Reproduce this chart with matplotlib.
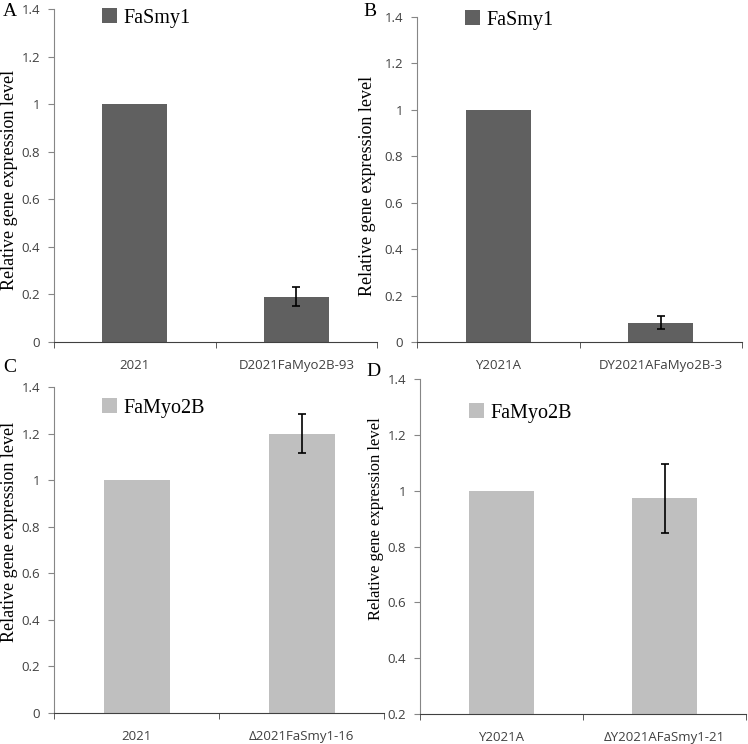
import matplotlib
matplotlib.use("Agg")
import matplotlib.pyplot as plt
from matplotlib.patches import Patch

W, H = 748, 744

# panel A
a_labels = ["2021", "D2021FaMyo2B-93"]
a_values = [1.0, 0.19]
a_errors = [0.0, 0.04]
# panel B
b_labels = ["Y2021A", "DY2021AFaMyo2B-3"]
b_values = [1.0, 0.084]
b_errors = [0.0, 0.027]
# panel C
c_labels = ["2021", "\u03942021FaSmy1-16"]
c_values = [1.0, 1.20]
c_errors = [0.0, 0.082]
# panel D
d_labels = ["Y2021A", "\u0394Y2021AFaSmy1-21"]
d_values = [1.0, 0.972]
d_errors = [0.0, 0.124]

DARK = "#606060"
LIGHT = "#bfbfbf"
TICK_FONT = "Open Sans"
SERIF = "Liberation Serif"


def px_axes(fig, x0, x1, ytop, ybot):
    return fig.add_axes([x0 / W, 1 - ybot / H, (x1 - x0) / W, (ybot - ytop) / H])


def panel(fig, box, labels, values, errors, color, gene, ymin, leg_xy, letter_xy, letter,
          ylab_xy, ylab_size=13):
    ax = px_axes(fig, *box)
    x = range(len(labels))
    ax.bar(x, [v - ymin for v in values], bottom=ymin, width=0.4, color=color, zorder=2)
    for i, (v, e) in enumerate(zip(values, errors)):
        if e > 0:
            ax.errorbar(i, v, yerr=e, fmt="none", ecolor="black", elinewidth=1.2,
                        capsize=2.6, capthick=1.2, zorder=3)
    ax.set_xlim(-0.5, 1.5)
    ax.set_ylim(ymin, 1.4)
    yt = [round(ymin + 0.2 * k, 1) for k in range(int(round((1.4 - ymin) / 0.2)) + 1)]
    ax.set_yticks(yt)
    ax.set_yticklabels(["1" if t == 1 else ("0" if t == 0 else f"{t:g}") for t in yt],
                       fontfamily=TICK_FONT, fontsize=9.5, color="#404040")
    ax.set_xticks(list(x))
    ax.set_xticklabels(labels, fontfamily=TICK_FONT, fontsize=9.5, color="#404040")
    ax.tick_params(axis="x", length=0, pad=12)
    ax.set_xticks([-0.5, 0.5, 1.5], minor=True)
    ax.tick_params(axis="x", which="minor", length=4, color="#404040", direction="out")
    ax.tick_params(axis="y", length=4, color="#868686", direction="out", pad=6)
    for s in ["top", "right"]:
        ax.spines[s].set_visible(False)
    ax.spines["left"].set_color("#868686")
    ax.spines["bottom"].set_color("#404040")
    ax.patch.set_alpha(0)

    fig.text(ylab_xy[0] / W, 1 - ylab_xy[1] / H, "Relative gene expression level",
             rotation=90, ha="center", va="center", fontfamily=SERIF, fontsize=ylab_size)
    fig.text(letter_xy[0] / W, 1 - letter_xy[1] / H, letter, ha="left", va="center",
             fontfamily=SERIF, fontsize=14)
    fig.legend(handles=[Patch(facecolor=color, label=gene)],
               loc="center left", bbox_to_anchor=(leg_xy[0] / W, 1 - leg_xy[1] / H),
               frameon=False, handlelength=0.75, handleheight=0.7, handletextpad=0.3,
               borderpad=0, borderaxespad=0,
               prop={"family": SERIF, "size": 14.5})


fig = plt.figure(figsize=(W / 100, H / 100), dpi=100)

panel(fig, (54, 377, 9, 342), a_labels, a_values, a_errors, DARK, "FaSmy1", 0.0,
      (102, 18), (3, 12), "A", (10, 180))
panel(fig, (417, 742, 17, 342), b_labels, b_values, b_errors, DARK, "FaSmy1", 0.0,
      (465, 20), (363, 12), "B", (368, 186))
panel(fig, (54, 384, 387, 713), c_labels, c_values, c_errors, LIGHT, "FaMyo2B", 0.0,
      (102, 408), (3, 368), "C", (10, 532))
panel(fig, (420, 746, 379, 714), d_labels, d_values, d_errors, LIGHT, "FaMyo2B", 0.2,
      (469, 413), (366, 372), "D", (376, 519), ylab_size=12)

fig.savefig("out.png", dpi=100)
